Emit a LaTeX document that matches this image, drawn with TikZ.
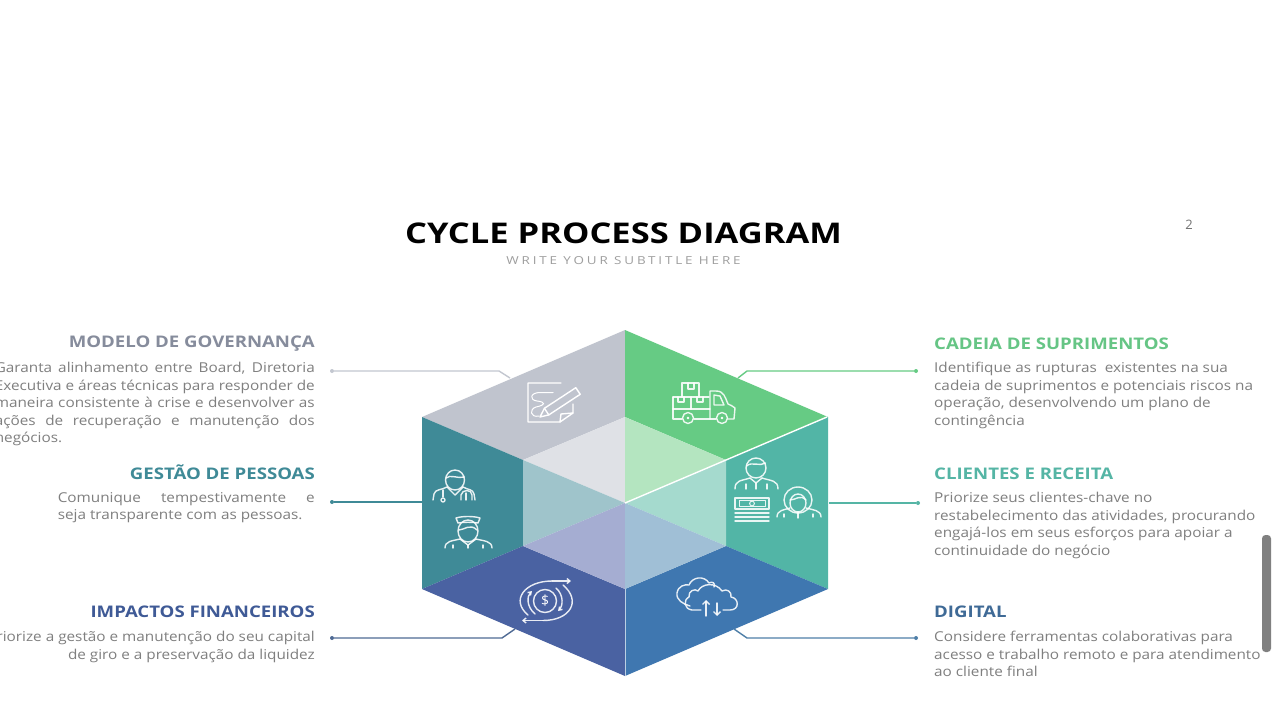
\documentclass[tikz,border=0pt]{standalone}
\usepackage{fontspec}
\setmainfont{Open Sans}
\newfontfamily\subfont[LetterSpace=26,FakeStretch=1.22]{Open Sans}
\newfontfamily\titlefont[FakeStretch=1.21]{Open Sans}
\newfontfamily\headfont[FakeStretch=1.1625]{Open Sans}
\newfontfamily\bodyfont[FakeStretch=1.125]{Open Sans}
\usetikzlibrary{arrows.meta}
\definecolor{cGrey}{HTML}{C0C4CE}
\definecolor{cGreen}{HTML}{66CB84}
\definecolor{cTeal}{HTML}{3F8A97}
\definecolor{cMint}{HTML}{52B5A6}
\definecolor{cIndigo}{HTML}{4A62A2}
\definecolor{cBlue}{HTML}{3F77B0}
\definecolor{iGrey}{HTML}{DFE1E6}
\definecolor{iGreen}{HTML}{B4E5C0}
\definecolor{iTeal}{HTML}{9FC4CB}
\definecolor{iMint}{HTML}{A5DACE}
\definecolor{iIndigo}{HTML}{A5ADD2}
\definecolor{iBlue}{HTML}{A0BFD6}
\definecolor{bodytext}{HTML}{7F7F7F}
\definecolor{hGrey}{HTML}{868C9C}
\definecolor{hTeal}{HTML}{3F8A97}
\definecolor{hIndigo}{HTML}{3F5A96}
\definecolor{hGreen}{HTML}{66C585}
\definecolor{hMint}{HTML}{55B5A5}
\definecolor{hBlue}{HTML}{3F6A96}
\definecolor{lGrey}{HTML}{C3C7D0}
\definecolor{lIndigo}{HTML}{4F6A94}
\definecolor{lBlue}{HTML}{4F7FA8}
\tikzset{
  x=1pt,y=-1pt,
  heading/.style={inner sep=0pt,font=\headfont\bfseries\fontsize{16}{18}\selectfont},
  bodyblock/.style={inner sep=0pt,text=bodytext,font=\bodyfont\fontsize{13.6}{17.6}\selectfont},
  leaderdot/.style={circle,fill=#1,inner sep=0pt,minimum size=4pt},
  leader/.style={draw=#1,line width=1.4pt},
  icon/.style={draw=white,line width=1.4pt,line join=round,line cap=round},
  softicon/.style={draw=white,draw opacity=.88,line width=1.4pt,line join=round,line cap=round}
}
\newcommand{\jline}[2]{\makebox[#1pt][s]{#2}}
\newcommand{\lline}[2]{\makebox[#1pt][l]{#2}}
\begin{document}
\begin{tikzpicture}
\useasboundingbox (0,0) rectangle (1280,720);
\fill[white] (0,0) rectangle (1280,720);

% title
\node[inner sep=0pt,font=\titlefont\bfseries\fontsize{28.5}{32}\selectfont,text=black] (title) at (623.5,233) {CYCLE PROCESS DIAGRAM};
\node[inner sep=0pt,font=\subfont\fontsize{11}{13}\selectfont,text=black!38] (subtitle) at (623.5,260.5) {WRITE YOUR SUBTITLE HERE};
\node[inner sep=0pt,font=\fontsize{13}{15}\selectfont,text=black!55] (pageno) at (1189,225) {2};

% hexagon faces
\fill[cGrey] (625,330)--(422,417)--(523,460)--(625,417)--cycle;
\fill[cGreen] (625,330)--(828,417)--(726,460)--(625,417)--cycle;
\fill[cTeal] (422,417)--(523,460)--(523,546)--(422,589)--cycle;
\fill[cMint] (828,417)--(726,460)--(726,546)--(828,589)--cycle;
\fill[cIndigo] (422,589)--(523,546)--(625,589)--(625,676)--cycle;
\fill[cBlue] (828,589)--(726,546)--(625,589)--(625,676)--cycle;
\fill[iGrey] (523,460)--(625,417)--(625,503)--cycle;
\fill[iGreen] (625,417)--(726,460)--(625,503)--cycle;
\fill[iTeal] (523,460)--(625,503)--(523,546)--cycle;
\fill[iMint] (726,460)--(625,503)--(726,546)--cycle;
\fill[iIndigo] (523,546)--(625,503)--(625,589)--cycle;
\fill[iBlue] (726,546)--(625,503)--(625,589)--cycle;
\draw[white,line width=1.4pt] (827,417)--(625,503);
\draw[white,draw opacity=.65,line width=1pt] (625,589)--(625,676);

% leader anchors
\node[leaderdot=lGrey] (d1) at (332,371) {};
\coordinate (e1) at (499,371);
\coordinate (f1) at (510,378);
\node[leaderdot=cTeal] (d2) at (332,502) {};
\coordinate (f2) at (422,502);
\node[leaderdot=lIndigo] (d3) at (332,638) {};
\coordinate (e3) at (502,638);
\coordinate (f3) at (515,629);
\node[leaderdot=cGreen] (d4) at (916,371) {};
\coordinate (e4) at (747,371);
\coordinate (f4) at (738,378);
\node[leaderdot=hMint] (d5) at (918,503) {};
\coordinate (f5) at (829,503);
\node[leaderdot=lBlue] (d6) at (916,638) {};
\coordinate (e6) at (747,638);
\coordinate (f6) at (734,629);
\draw[leader=lGrey] (d1)--(e1)--(f1);
\draw[leader=cTeal] (d2)--(f2);
\draw[leader=lIndigo] (d3)--(e3)--(f3);
\draw[leader=cGreen] (d4)--(e4)--(f4);
\draw[leader=hMint] (d5)--(f5);
\draw[leader=lBlue] (d6)--(e6)--(f6);

% left text
\node[heading,text=hGrey,anchor=base east] (h1) at (315,347) {MODELO DE GOVERNANÇA};
\node[bodyblock,anchor=north east,align=right] (b1) at (315,362) {%
\jline{320}{Garanta alinhamento entre Board, Diretoria}\\
\jline{320}{Executiva e áreas técnicas para responder de}\\
\jline{320}{maneira consistente à crise e desenvolver as}\\
\jline{320}{ações de recuperação e manutenção dos}\\
\lline{320}{negócios.}};
\node[heading,text=hTeal,anchor=base east] (h2) at (315,479) {GESTÃO DE PESSOAS};
\node[bodyblock,anchor=north east,align=right] (b2) at (315,492) {%
\jline{257}{Comunique tempestivamente e}\\
\lline{257}{seja transparente com as pessoas.}};
\node[heading,text=hIndigo,anchor=base east] (h3) at (315,617) {IMPACTOS FINANCEIROS};
\node[bodyblock,anchor=north east,align=right] (b3) at (315,631) {%
Priorize a gestão e manutenção do seu capital\\
de giro e a preservação da liquidez};

% right text
\node[heading,text=hGreen,anchor=base west] (h4) at (934,349) {CADEIA DE SUPRIMENTOS};
\node[bodyblock,anchor=north west,align=left] (b4) at (934,362) {%
Identifique as rupturas\ \ existentes na sua\\
cadeia de suprimentos e potenciais riscos na\\
operação, desenvolvendo um plano de\\
contingência};
\node[heading,text=hMint,anchor=base west] (h5) at (934,479) {CLIENTES E RECEITA};
\node[bodyblock,anchor=north west,align=left] (b5) at (934,492) {%
Priorize seus clientes-chave no\\
restabelecimento das atividades, procurando\\
engajá-los em seus esforços para apoiar a\\
continuidade do negócio};
\node[heading,text=hBlue,anchor=base west] (h6) at (934,617) {DIGITAL};
\node[bodyblock,anchor=north west,align=left] (b6) at (934,631) {%
Considere ferramentas colaborativas para\\
acesso e trabalho remoto e para atendimento\\
ao cliente final};

% scrollbar
\fill[black!50,rounded corners=3.5pt] (1262,535) rectangle (1271,652);

% note and pencil icon
\draw[icon] (561,383)--(528,383)--(528,422)--(560,422)--(573,413)--(573,404);
\draw[icon] (560,422)--(561,414)--(573,413);
\draw[icon] (540,417)--(544.4,408.3)--(575.8,387.7)--(580.2,394.3)--(548.8,414.9)--cycle;
\draw[icon] (544.4,408.3)--(548.8,414.9);
\draw[icon,line width=1pt] (553,392.5)--(540,392.5) .. controls (530,392.5) and (529,400) .. (537,401) .. controls (546,402) and (546,405) .. (536,407) .. controls (529,409) and (530,418) .. (539,416);

% truck icon
\draw[softicon] (682,397)--(682,383)--(699,383)--(699,397);
\draw[softicon] (688,383)--(688,389)--(694,389)--(694,383);
\draw[softicon] (673,397)--(709,397);
\draw[softicon] (678,397)--(678,402)--(684,402)--(684,397);
\draw[softicon] (697,397)--(697,402)--(703,402)--(703,397);
\draw[softicon] (691,397)--(691,409);
\draw[softicon] (673,409)--(710,409);
\draw[softicon] (682,419)--(673,419)--(673,397);
\draw[softicon] (694,419)--(716,419);
\draw[softicon] (728,419)--(734,419)--(735,408) .. controls (733,405) and (730,406) .. (728,404) .. controls (725,397) and (724,391) .. (716,391)--(710,391)--(710,419);
\draw[softicon] (714,395)--(720,396)--(724,405)--(714,405)--cycle;
\draw[softicon] (688,418) circle[radius=5.5];
\draw[softicon] (722,418) circle[radius=5.5];
\fill[white] (688,418) circle[radius=1.3];
\fill[white] (722,418) circle[radius=1.3];

% doctor icon
\draw[softicon] (455,480) ellipse[x radius=9.5,y radius=10];
\draw[softicon] (446,478) .. controls (450,474) and (458,479) .. (464.5,477);
\draw[softicon] (433,500)--(434,494) .. controls (435,489) and (442,490) .. (447,487);
\draw[softicon] (475,500)--(474,494) .. controls (473,489) and (468,490) .. (463,487);
\draw[softicon] (447,487)--(455,495)--(463,487);
\draw[softicon] (443,490)--(443,497);
\draw[softicon] (443,500) circle[radius=2];
\draw[softicon] (461,500)--(461,495) .. controls (462,489) and (472,489) .. (472,495)--(472,500);
\draw[softicon] (466,493)--(466,500);

% nurse icon
\draw[softicon] (468,531) ellipse[x radius=10,y radius=11];
\draw[softicon] (459,530) .. controls (464,530) and (470,523) .. (477,530);
\draw[softicon] (456,518) .. controls (462,516) and (474,516) .. (480,518)--(478,523) .. controls (472,522) and (464,522) .. (458,523)--cycle;
\draw[softicon] (445,548) .. controls (445,541) and (452,541) .. (460,539);
\draw[softicon] (492,548) .. controls (492,541) and (484,541) .. (476,539);
\draw[softicon] (460,539)--(468,545)--(476,539);
\draw[softicon] (453,545)--(453,548);
\draw[softicon] (468,545)--(468,548);
\draw[softicon] (483,545)--(483,548);

% client man icon
\draw[softicon] (756,468) ellipse[x radius=10,y radius=10];
\draw[softicon] (746.5,466) .. controls (752,461) and (760,467) .. (765.5,463);
\draw[softicon] (735,489) .. controls (735,480) and (741,481) .. (750,478);
\draw[softicon] (778,489) .. controls (778,480) and (771,481) .. (762,478);
\draw[softicon] (750,478)--(756,483)--(762,478);
\draw[softicon] (756,483)--(756,489);
\draw[softicon] (746,484)--(746,489);
\draw[softicon] (767,484)--(767,489);

% money icon
\draw[softicon] (735,498) rectangle (769,509);
\draw[softicon,line width=1pt] (739,500.5) rectangle (765,506.5);
\draw[softicon,line width=1pt] (752,503.5) circle[radius=2.4];
\draw[softicon] (735,513)--(769,513);
\draw[softicon] (735,517)--(769,517);
\draw[softicon] (735,521)--(769,521);

% client woman icon
\draw[softicon] (798,500) ellipse[x radius=14,y radius=13];
\draw[softicon] (798,503) ellipse[x radius=8,y radius=9];
\draw[softicon] (790,500) .. controls (796,500) and (800,494) .. (806,500);
\draw[softicon] (777,517) .. controls (777,510) and (784,510) .. (790,508);
\draw[softicon] (821,517) .. controls (821,510) and (813,510) .. (806,508);
\draw[softicon] (798,512)--(798,518);
\draw[softicon] (784,514)--(784,517);
\draw[softicon] (813,514)--(813,517);

% dollar icon
\draw[softicon,-{Straight Barb[length=3pt,width=5pt]}] (552,581) -- (571,581);
\draw[softicon] (552,581) .. controls (525,581) and (510,600) .. (528,615);
\draw[softicon,-{Straight Barb[length=3pt,width=5pt]}] (543,620.5) -- (522,620.5);
\draw[softicon] (543,620.5) .. controls (570,620.5) and (582,601) .. (563,585);
\draw[softicon,-{Straight Barb[length=3pt,width=4pt]}] (535,614) .. controls (526,606) and (527,596) .. (532,591);
\draw[softicon,-{Straight Barb[length=3pt,width=4pt]}] (556,588) .. controls (564,595) and (563,606) .. (558,611);
\draw[softicon] (545,601) circle[radius=11.5];
\node[inner sep=0pt,text=white,font=\fontsize{14}{16}\selectfont] (dollar) at (545,601) {\$};

% cloud icon
\draw[softicon] (690,606) .. controls (683,604) and (676,600) .. (677,593) .. controls (678,586) and (685,584) .. (689,585) .. controls (692,577) and (704,575) .. (709,583) .. controls (712,581) and (716,583) .. (714,587);
\draw[softicon] (701,610)--(692,610) .. controls (684,609) and (683,600) .. (689,597) .. controls (688,591) and (695,588) .. (698,591) .. controls (702,583) and (716,582) .. (722,591) .. controls (727,588) and (732,592) .. (731,597) .. controls (739,598) and (740,610) .. (730,610)--(723,610);
\draw[softicon,-{Straight Barb[length=3.5pt,width=7pt]}] (706,616)--(706,600);
\draw[softicon,-{Straight Barb[length=3.5pt,width=7pt]}] (717,603)--(717,616);
\end{tikzpicture}
\end{document}
